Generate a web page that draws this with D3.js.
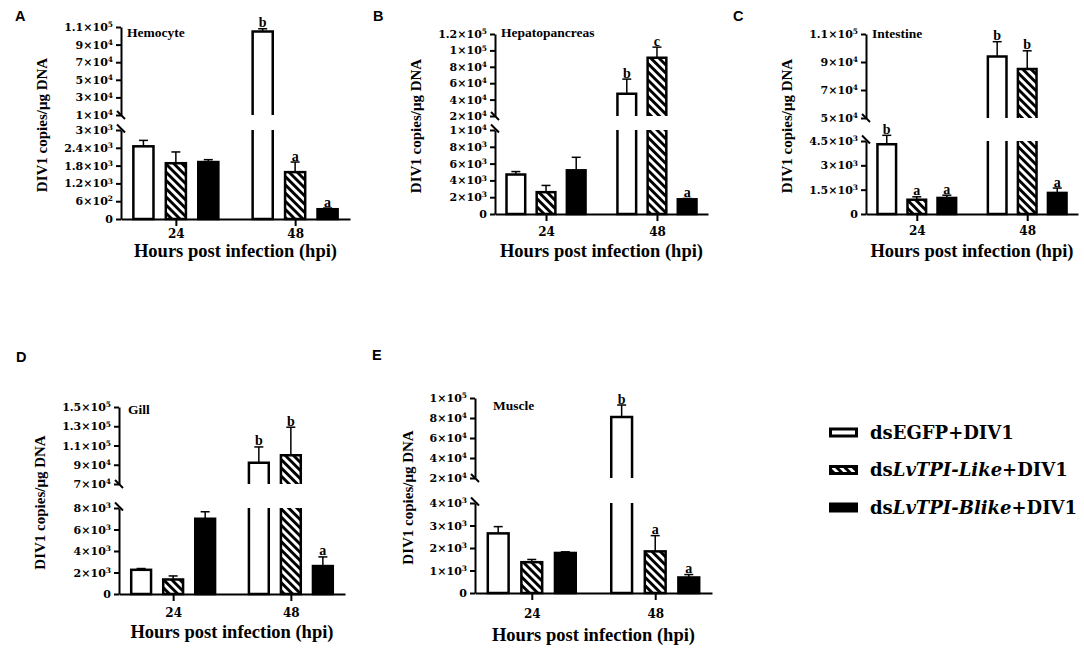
<!DOCTYPE html>
<html>
<head>
<meta charset="utf-8">
<script src="https://cdn.jsdelivr.net/npm/d3@7"></script>
<style>
  body { margin: 0; background: #fff; }
  svg { display: block; }
</style>
</head>
<body>
<svg width="1084" height="654"></svg>
<script>
var groups = ["24", "48"];
var series = ["dsEGFP+DIV1", "dsLvTPI-Like+DIV1", "dsLvTPI-Blike+DIV1"];
var tissues = ["Hemocyte", "Hepatopancreas", "Intestine", "Gill", "Muscle"];
var panelLetters = ["A", "B", "C", "D", "E"];
var xTitle = "Hours post infection (hpi)";
var yTitle = "DIV1 copies/μg DNA";

// rows = series, columns = groups (24, 48 hpi)
var hemocyteMean = [[2450, 105000], [1880, 1580], [1920, 330]];
var hemocyteErr = [[200, 3000], [380, 340], [80, 40]];
var hemocyteSig = [["", "b"], ["", "a"], ["", "a"]];
var hemocyteLowTicks = [0, 600, 1200, 1800, 2400, 3000];
var hemocyteHighTicks = [10000, 30000, 50000, 70000, 90000, 110000];

var hepatoMean = [[4700, 47000], [2600, 91000], [5200, 1750]];
var hepatoErr = [[350, 18000], [800, 13000], [1550, 100]];
var hepatoSig = [["", "b"], ["", "c"], ["", "a"]];
var hepatoLowTicks = [0, 2000, 4000, 6000, 8000, 10000];
var hepatoHighTicks = [20000, 40000, 60000, 80000, 100000, 120000];

var intestineMean = [[4300, 94000], [880, 85000], [990, 1300]];
var intestineErr = [[550, 10500], [180, 13000], [170, 300]];
var intestineSig = [["b", "b"], ["a", "b"], ["a", "a"]];
var intestineLowTicks = [0, 1500, 3000, 4500];
var intestineHighTicks = [50000, 70000, 90000, 110000];

var gillMean = [[2250, 92000], [1350, 100000], [7000, 2600]];
var gillErr = [[120, 16500], [330, 29000], [650, 850]];
var gillSig = [["", "b"], ["", "b"], ["", "a"]];
var gillLowTicks = [0, 2000, 4000, 6000, 8000];
var gillHighTicks = [70000, 90000, 110000, 130000, 150000];

var muscleMean = [[2650, 81000], [1370, 1850], [1780, 690]];
var muscleErr = [[300, 12000], [120, 700], [50, 130]];
var muscleSig = [["", "b"], ["", "a"], ["", "a"]];
var muscleLowTicks = [0, 1000, 2000, 3000, 4000];
var muscleHighTicks = [20000, 40000, 60000, 80000, 100000];

var panels = [
  {mean: hemocyteMean, err: hemocyteErr, sig: hemocyteSig, low: hemocyteLowTicks, high: hemocyteHighTicks},
  {mean: hepatoMean, err: hepatoErr, sig: hepatoSig, low: hepatoLowTicks, high: hepatoHighTicks},
  {mean: intestineMean, err: intestineErr, sig: intestineSig, low: intestineLowTicks, high: intestineHighTicks},
  {mean: gillMean, err: gillErr, sig: gillSig, low: gillLowTicks, high: gillHighTicks},
  {mean: muscleMean, err: muscleErr, sig: muscleSig, low: muscleLowTicks, high: muscleHighTicks}
];

// pixel layout of each panel
var layout = [
  {left: 121, right: 350, bottom: 219, breakLo: 130, breakHi: 115, top: 27, labelX: 127, labelY: 36.5, letterX: 15, letterY: 21, tickY: 238, titleY: 257},
  {left: 495, right: 708, bottom: 214, breakLo: 130, breakHi: 116, top: 34, labelX: 501, labelY: 37, letterX: 373, letterY: 21, tickY: 236, titleY: 257},
  {left: 866, right: 1078, bottom: 214, breakLo: 141, breakHi: 118, top: 34, labelX: 872, labelY: 38, letterX: 733, letterY: 21, tickY: 235, titleY: 257},
  {left: 119, right: 345, bottom: 594, breakLo: 508, breakHi: 484, top: 407, labelX: 128, labelY: 414, letterX: 16, letterY: 362, tickY: 617, titleY: 638},
  {left: 475, right: 712, bottom: 593, breakLo: 503, breakHi: 478, top: 398, labelX: 493, labelY: 410, letterX: 372, letterY: 360, tickY: 618, titleY: 641}
];

var serif = "'Liberation Serif', 'Times New Roman', serif";
var tickFont = "'DejaVu Serif', serif";
var fills = ["#fff", "url(#hatch)", "#000"];

var svg = d3.select("svg");

var defs = svg.append("defs");
var pat = defs.append("pattern")
  .attr("id", "hatch")
  .attr("patternUnits", "userSpaceOnUse")
  .attr("width", 5.8).attr("height", 5.8)
  .attr("patternTransform", "rotate(-45)");
pat.append("rect").attr("width", 5.8).attr("height", 5.8).attr("fill", "#fff");
pat.append("rect").attr("width", 2.9).attr("height", 5.8).attr("fill", "#000");

function sci_label(sel){
  sel.each(function(v){
    var t = d3.select(this).text(null);
    if (v === 0) { t.text("0"); return; }
    var e = Math.floor(Math.log10(v) + 1e-9);
    var m = +(v / Math.pow(10, e)).toFixed(1);
    t.append("tspan").text(m + "×10");
    t.append("tspan").attr("dy", "-0.5em").attr("font-size", "0.68em").text(e);
  });
}

function style_axis(g){
  g.selectAll(".domain, .tick line").attr("stroke", "#000").attr("stroke-width", 2);
  g.selectAll(".tick text").attr("fill", "#000");
}

function draw_panel(p, L, idx){
  var g = svg.append("g");

  var x = d3.scalePoint().domain(groups).range([L.left, L.right]).padding(0.46);
  var s = x.step() * 0.272;
  var inner = d3.scaleBand().domain(series).range([-1.5 * s, 1.5 * s])
    .paddingInner(0.38).paddingOuter(0.19);

  var lowMax = d3.max(p.low);
  var yLow = d3.scaleLinear().domain([0, lowMax]).range([L.bottom, L.breakLo]);
  var yHigh = d3.scaleLinear().domain(d3.extent(p.high)).range([L.breakHi, L.top]);

  // bars
  series.forEach(function(name, i){
    groups.forEach(function(grp, j){
      var v = p.mean[i][j], e = p.err[i][j];
      var bx = x(grp) + inner(name), bw = inner.bandwidth(), cx = bx + bw / 2;
      // error bar stays on the same segment as its bar
      var yy = v <= lowMax ? yLow : yHigh;
      var top = yy(v);

      if (v <= lowMax) {
        g.append("rect")
          .attr("x", bx).attr("y", top)
          .attr("width", bw).attr("height", L.bottom - top)
          .attr("fill", fills[i]).attr("stroke", "#000").attr("stroke-width", 2.5);
      } else {
        g.append("rect").attr("x", bx).attr("y", top)
          .attr("width", bw).attr("height", L.breakHi - top).attr("fill", fills[i]);
        g.append("rect").attr("x", bx).attr("y", L.breakLo)
          .attr("width", bw).attr("height", L.bottom - L.breakLo).attr("fill", fills[i]);
        var path = d3.path();
        path.moveTo(bx, L.breakHi); path.lineTo(bx, top); path.lineTo(bx + bw, top); path.lineTo(bx + bw, L.breakHi);
        path.moveTo(bx, L.breakLo); path.lineTo(bx, L.bottom); path.lineTo(bx + bw, L.bottom); path.lineTo(bx + bw, L.breakLo);
        g.append("path").attr("d", path.toString())
          .attr("fill", "none").attr("stroke", "#000").attr("stroke-width", 2.5);
      }

      var ye = yy(v + e);
      g.append("line").attr("x1", cx).attr("x2", cx).attr("y1", top).attr("y2", ye)
        .attr("stroke", "#000").attr("stroke-width", 1.5);
      g.append("line").attr("x1", cx - 4.5).attr("x2", cx + 4.5).attr("y1", ye).attr("y2", ye)
        .attr("stroke", "#000").attr("stroke-width", 1.5);

      if (p.sig[i][j]) {
        g.append("text").attr("x", cx).attr("y", ye - 1.5)
          .attr("text-anchor", "middle")
          .attr("font-family", serif).attr("font-weight", "bold").attr("font-size", 14)
          .text(p.sig[i][j]);
      }
    });
  });

  // y axes, two segments with a break
  var axes = [
    d3.axisLeft(yLow).tickValues(p.low),
    d3.axisLeft(yHigh).tickValues(p.high)
  ];
  var tickTexts = [];
  axes.forEach(function(ax){
    var ga = g.append("g").attr("transform", "translate(" + L.left + ",0)")
      .call(ax.tickSize(5).tickPadding(3).tickSizeOuter(0));
    ga.selectAll(".tick text")
      .attr("font-family", tickFont).attr("font-weight", "bold").attr("font-size", 11)
      .call(sci_label);
    style_axis(ga);
    tickTexts = tickTexts.concat(ga.selectAll(".tick text").nodes());
  });

  [L.breakHi, L.breakLo - 1.5].forEach(function(by){
    g.append("line")
      .attr("x1", L.left - 4).attr("y1", by - 4)
      .attr("x2", L.left + 4).attr("y2", by + 4)
      .attr("stroke", "#000").attr("stroke-width", 2);
  });

  // x axis
  var gx = g.append("g").attr("transform", "translate(0," + L.bottom + ")")
    .call(d3.axisBottom(x).tickSize(7).tickSizeOuter(0));
  gx.selectAll(".tick text")
    .attr("font-family", tickFont).attr("font-weight", "bold").attr("font-size", 12)
    .attr("y", L.tickY - L.bottom).attr("dy", 0);
  style_axis(gx);

  // titles
  g.append("text")
    .attr("x", (L.left + L.right) / 2).attr("y", L.titleY)
    .attr("text-anchor", "middle")
    .attr("font-family", serif).attr("font-weight", "bold").attr("font-size", 18.5)
    .text(xTitle);

  var minX = d3.min(tickTexts, function(n){ return n.getBBox().x + L.left; });
  var cy = (L.top + L.bottom) / 2 + 2;
  g.append("text")
    .attr("transform", "translate(" + (minX - 22) + "," + cy + ") rotate(-90)")
    .attr("text-anchor", "middle").attr("dy", "0.35em")
    .attr("font-family", serif).attr("font-weight", "bold").attr("font-size", 15)
    .text(yTitle);

  g.append("text")
    .attr("x", L.labelX).attr("y", L.labelY)
    .attr("font-family", serif).attr("font-weight", "bold").attr("font-size", 13.5)
    .text(tissues[idx]);

  g.append("text")
    .attr("x", L.letterX).attr("y", L.letterY)
    .attr("font-family", "'Liberation Sans', Arial, sans-serif").attr("font-weight", "bold").attr("font-size", 14.5)
    .text(panelLetters[idx]);
}

panels.forEach(function(p, i){ draw_panel(p, layout[i], i); });

// legend
var legend = svg.append("g").attr("transform", "translate(829,432.5)");
series.forEach(function(name, i){
  var row = legend.append("g").attr("transform", "translate(0," + (i * 37.5) + ")");
  row.append("rect").attr("x", 1.5).attr("y", -3.5).attr("width", 26).attr("height", 7)
    .attr("fill", fills[i]).attr("stroke", "#000").attr("stroke-width", 3);
  var t = row.append("text").attr("x", 41).attr("y", 6)
    .attr("font-family", tickFont).attr("font-weight", "bold").attr("font-size", 18);
  var m = name.match(/^(ds)(LvTPI-[A-Za-z]+)(.*)$/);
  if (m) {
    t.append("tspan").text(m[1]);
    t.append("tspan").attr("font-style", "italic").text(m[2]);
    t.append("tspan").text(m[3]);
  } else {
    t.text(name);
  }
});
</script>
</body>
</html>
